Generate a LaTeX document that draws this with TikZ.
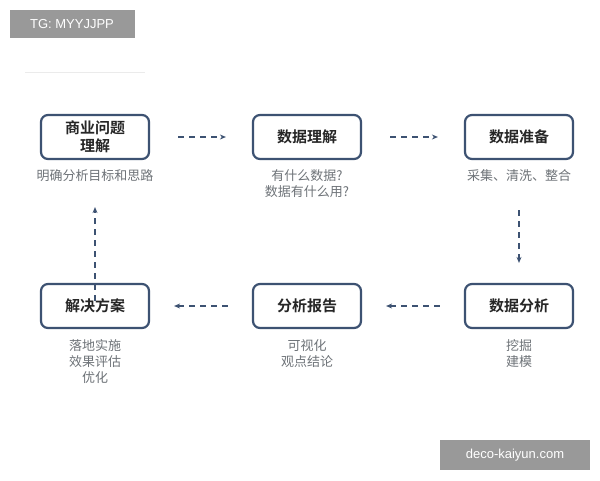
\documentclass[tikz,border=0pt]{standalone}
\usepackage{fontspec}
\setmainfont{Liberation Sans}
\newfontfamily\cjk{Noto Sans CJK SC}
\newfontfamily\cjkb{Noto Sans CJK SC Bold}
\usetikzlibrary{arrows.meta}
\definecolor{bd}{HTML}{3D5272}
\definecolor{lb}{HTML}{6E7378}
\tikzset{
 stepbox/.style={draw=bd,line width=2.2pt,rounded corners=7pt,minimum width=108pt,minimum height=44pt,align=center,font=\cjkb\fontsize{15}{18}\selectfont,text=black!85},
 lab/.style={align=center,font=\cjk\fontsize{13}{16}\selectfont,text=lb,anchor=north},
 flow/.style={draw=bd,line width=1.3pt,dash pattern=on 6pt off 5pt,-{Stealth[length=6pt,width=5pt]}},
 wm/.style={fill=black!40,text=white,font=\fontsize{13}{15}\selectfont,inner sep=0pt}
}
\begin{document}
\begin{tikzpicture}[x=1pt,y=-1pt]
\useasboundingbox[fill=white] (0,0) rectangle (600,480);
\node[wm,minimum width=125pt,minimum height=28pt] (w1) at (72,24) {TG: MYYJJPP};
\node[wm,minimum width=150pt,minimum height=30pt] (w2) at (515,455) {deco-kaiyun.com};
\draw[black!8,line width=0.8pt] (25,72) -- (145,72);
\node[stepbox] (a) at (95,137) {商业问题\\理解};
\node[stepbox] (b) at (307,137) {数据理解};
\node[stepbox] (c) at (519,137) {数据准备};
\node[stepbox] (d) at (519,306) {数据分析};
\node[stepbox] (e) at (307,306) {分析报告};
\node[stepbox] (f) at (95,306) {解决方案};
\node[lab] (la) at (95,166) {明确分析目标和思路};
\node[lab] (lb) at (307,166) {有什么数据?\\数据有什么用?};
\node[lab] (lc) at (519,166) {采集、清洗、整合};
\node[lab] (ld) at (519,336) {挖掘\\建模};
\node[lab] (le) at (307,336) {可视化\\观点结论};
\node[lab] (lf) at (95,336) {落地实施\\效果评估\\优化};
\draw[flow] ([xshift=28pt]a.east) -- ([xshift=-26pt]b.west);
\draw[flow] ([xshift=28pt]b.east) -- ([xshift=-26pt]c.west);
\draw[flow] ([yshift=-50pt]c.south) -- ([yshift=20pt]d.north);
\draw[flow] ([xshift=-24pt]d.west) -- ([xshift=24pt]e.east);
\draw[flow] ([xshift=-24pt]e.west) -- ([xshift=24pt]f.east);
\draw[flow] ([yshift=-18pt]f.north) -- ([yshift=-47pt]a.south);
\end{tikzpicture}
\end{document}
